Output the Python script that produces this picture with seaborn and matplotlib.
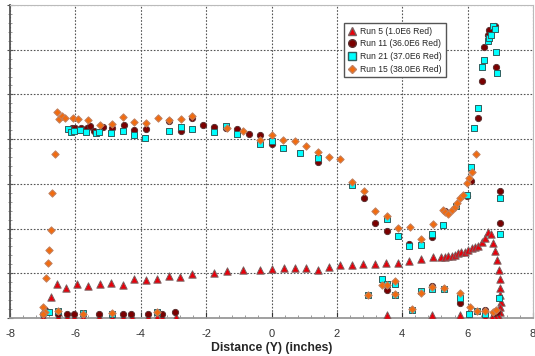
import numpy as np
import pandas as pd
import matplotlib
matplotlib.use("Agg")
import matplotlib.pyplot as plt
from matplotlib.ticker import MultipleLocator, NullFormatter
from matplotlib.lines import Line2D
import seaborn as sns

# ---- data: distance (inches) and response for each run ----
run5_x = [-6.98, -6.52, -6.27, -6.04, -5.77, -5.28, -4.89, -4.53, -4.28, -3.77, -3.50, -3.36, -2.93,
          3.52, 4.90, 5.77, 6.52,
          -6.76, -6.57, -6.30, -5.94, -5.61, -5.25, -4.91, -4.54, -4.20, -3.85, -3.50, -3.15, -2.79, -2.44,
          -1.75, -1.37, -0.87, -0.35, 0.02, 0.37, 0.71, 1.06, 1.41, 1.77, 2.11, 2.47, 2.80, 3.16, 3.51,
          3.87, 4.22, 4.57, 4.93,
          5.20, 5.30, 5.40, 5.51, 5.61, 5.71, 5.81, 5.91, 6.02, 6.12, 6.22, 6.32, 6.43, 6.53, 6.61, 6.70,
          6.78, 6.85, 6.91, 6.96, 6.98, 7.00, 7.00, 7.02, 7.00, 6.98, 6.93, 6.83, 6.76]
run5_y = [0.2, 0.2, 0.2, 0.2, 0.2, 0.2, 0.2, 0.2, 0.2, 0.2, 0.2, 0.2, 0.2,
          0.6, 0.7, 0.6, 0.2,
          4.6, 7.6, 6.7, 7.6, 7.1, 7.5, 7.8, 7.4, 8.7, 8.4, 8.7, 9.4, 9.2, 9.9,
          10.1, 10.4, 10.7, 10.7, 10.9, 11.2, 11.2, 11.2, 10.8, 11.3, 11.8, 11.9, 12.0, 12.0, 12.4,
          12.2, 12.8, 13.3, 13.6,
          13.7, 13.7, 13.9, 13.9, 14.1, 14.5, 14.7, 14.8, 15.2, 15.6, 15.9, 16.2, 16.9, 17.8, 19.2, 18.7,
          16.8, 15.0, 13.0, 10.7, 8.7, 6.8, 5.1, 3.6, 2.5, 1.4, 0.7, 0.5, 0.3]

run11_x = [-6.98, -6.93, -6.52, -6.27, -6.04, -5.28, -4.54, -4.30, -3.77, -3.36, -2.94,
           -6.11, -6.01, -5.83, -5.65, -5.54, -5.44, -5.15, -4.88, -4.52, -4.21, -3.85, -3.14, -2.78,
           -2.44, -2.09, -1.75, -1.39, -1.05, -0.69, -0.35, 0.01, 1.41,
           2.82, 3.16, 3.52, 4.21, 4.92, 5.30, 5.97, 6.09,
           6.32, 6.43, 6.50, 6.61, 6.66, 6.83, 6.88, 6.98, 6.98,
           3.52, 4.92, 5.77, 6.53, 6.80, 6.86, 6.91]
run11_y = [1.0, 1.8, 0.8, 1.0, 0.9, 0.8, 0.8, 1.0, 0.8, 0.8, 1.4,
           42.6, 42.6, 42.6, 42.6, 43.0, 41.9, 42.7, 42.4, 43.2, 42.1, 42.2, 44.1, 41.8,
           44.7, 43.2, 42.8, 42.6, 42.2, 41.1, 40.9, 38.9, 35.0,
           26.9, 21.3, 19.5, 16.6, 18.2, 24.0, 27.2, 30.6,
           44.7, 53.0, 60.5, 63.3, 64.3, 65.2, 56.2, 28.5, 21.2,
           6.3, 7.2, 3.3, 1.8, 1.2, 1.6, 1.4]

run21_x = [-6.88, -6.80, -6.52, -5.76, -4.89, -3.50,
           -6.24, -6.13, -6.04, -5.86, -5.67, -5.37, -5.28, -4.90, -4.54, -4.20, -3.86, -3.14, -2.78,
           -2.44, -1.75, -1.39, -1.05, -0.35, 0.01, 0.36, 0.88, 1.41, 2.47, 3.52, 3.87, 4.21, 4.56,
           4.92, 5.25, 5.63, 5.97, 6.09, 6.18, 6.32, 6.43, 6.50, 6.61, 6.66, 6.71, 6.78, 6.83, 6.88,
           6.91, 6.98, 6.98,
           2.96, 3.38, 3.52, 3.78, 3.78, 4.30, 4.56, 4.92, 5.28, 5.77, 6.05, 6.29, 6.53, 6.96]
run21_y = [1.4, 1.4, 1.6, 1.2, 1.0, 1.4,
           42.3, 41.5, 41.9, 42.1, 41.6, 41.4, 41.6, 41.4, 41.8, 40.9, 40.3, 41.9, 42.8,
           42.3, 41.5, 43.0, 41.2, 38.9, 39.5, 38.0, 37.0, 35.7, 29.8, 22.1, 18.3, 16.0, 16.3,
           18.8, 20.7, 25.1, 27.4, 33.8, 42.4, 46.9, 56.1, 57.7, 62.0, 62.7, 63.3, 65.4, 64.6, 59.4,
           54.9, 26.8, 18.7,
           5.2, 8.7, 7.6, 7.6, 5.1, 1.8, 6.1, 6.4, 6.5, 4.5, 0.9, 1.5, 0.9, 4.5]

run15_x = [-6.62, -6.71, -6.76, -6.81, -6.85, -6.90, -6.98, -6.93, -6.98,
           -6.52, -5.76, -4.89, -3.51,
           -6.57, -6.49, -6.41, -6.31, -6.06, -5.93, -5.61, -5.25, -4.89, -4.53, -4.20, -3.84, -3.48,
           -3.14, -2.78, -2.44, -1.37, -0.87, -0.35, 0.02, 0.36, 0.72, 1.07, 1.41, 1.77, 2.11, 2.47,
           2.82, 3.17, 3.52, 3.88, 4.23, 4.57, 4.93, 5.25, 5.30, 5.39, 5.51, 5.61, 5.68, 5.78, 5.86,
           5.97, 6.05, 6.12, 6.25,
           2.96, 3.39, 3.53, 3.78, 3.78, 4.30, 4.56, 4.92, 5.29, 5.77, 6.07, 6.29, 6.53, 6.78, 6.86]
run15_y = [36.6, 27.9, 19.7, 15.2, 12.2, 8.9, 2.5, 1.4, 0.8,
           1.6, 0.9, 1.2, 1.3,
           46.0, 44.5, 45.2, 44.7, 44.7, 44.4, 44.2, 43.2, 43.4, 44.9, 43.9, 43.7, 44.7,
           44.3, 44.5, 45.2, 42.4, 41.8, 39.9, 41.0, 39.8, 39.5, 38.5, 37.2, 36.1, 35.6, 30.5,
           28.3, 24.0, 22.8, 20.1, 20.4, 17.7, 21.1, 24.2, 23.6, 23.3, 24.2, 24.9, 25.7, 26.9, 27.5,
           30.3, 31.4, 32.7, 36.6,
           5.2, 7.4, 7.4, 8.2, 5.4, 2.0, 5.7, 7.0, 6.6, 5.7, 2.5, 1.6, 1.6, 1.4, 1.8]

run_labels = ["Run 5 (1.0E6 Red)", "Run 11 (36.0E6 Red)",
              "Run 21 (37.0E6 Red)", "Run 15 (38.0E6 Red)"]

xticks = [-8, -6, -4, -2, 0, 2, 4, 6, 8]

frames = []
for lab, xs, ys in zip(run_labels,
                       [run5_x, run11_x, run21_x, run15_x],
                       [run5_y, run11_y, run21_y, run15_y]):
    frames.append(pd.DataFrame({"x": xs, "y": ys, "run": lab}))
df = pd.concat(frames, ignore_index=True)

styles = {
    run_labels[0]: dict(marker="^", color="#E8000B", edge="#7a6060", s=28),
    run_labels[1]: dict(marker="o", color="#7B0000", edge="#5a3030", s=20),
    run_labels[2]: dict(marker="s", color="#00FFFF", edge="#2f5f5f", s=22),
    run_labels[3]: dict(marker="D", color="#F26B0F", edge="#c08060", s=14),
}

sns.set_style("white")
plt.rcParams["font.family"] = ["Arial", "Liberation Sans", "DejaVu Sans"]

fig = plt.figure(figsize=(5.35, 3.56), dpi=100)
ax = fig.add_axes([10 / 535, 1 - 318 / 356, 523 / 535, 313 / 356])

for lab in run_labels:
    st = styles[lab]
    sns.scatterplot(data=df[df["run"] == lab], x="x", y="y", ax=ax,
                    marker=st["marker"], color=st["color"], edgecolor=st["edge"],
                    linewidth=0.7, s=st["s"], legend=False, zorder=3)

ax.set_xlim(-8, 8)
ax.set_ylim(0, 70)
ax.set_xticks(xticks)
ax.set_xticklabels([str(t) for t in xticks])
ax.xaxis.set_minor_locator(MultipleLocator(0.4))
ax.yaxis.set_major_locator(MultipleLocator(10))
ax.yaxis.set_minor_locator(MultipleLocator(2))
ax.yaxis.set_major_formatter(NullFormatter())

ax.grid(True, which="major", linestyle=(0, (1.5, 1.5)), color="#555555", linewidth=0.8)
ax.set_axisbelow(True)

ax.tick_params(axis="x", which="major", direction="in", length=4, labelsize=8,
               colors="#333333", pad=8, bottom=True)
ax.tick_params(axis="x", which="minor", direction="in", length=2.5, color="#888888", bottom=True)
ax.tick_params(axis="y", which="major", direction="inout", length=4, color="#555555", left=True)
ax.tick_params(axis="y", which="minor", direction="inout", length=3, color="#888888", left=True)

for side in ["top", "right"]:
    ax.spines[side].set_color("#bbbbbb")
    ax.spines[side].set_linewidth(0.8)
ax.spines["left"].set_color("#555555")
ax.spines["left"].set_linewidth(1.3)
ax.spines["bottom"].set_color("#999999")
ax.spines["bottom"].set_linewidth(1.3)

ax.set_xlabel("Distance (Y) (inches)", fontsize=8.8, fontweight="bold", labelpad=2)
ax.set_ylabel("")

handles = [Line2D([], [], linestyle="none", marker=styles[l]["marker"],
                  markerfacecolor=styles[l]["color"], markeredgecolor=styles[l]["edge"],
                  markersize=5.5 if styles[l]["marker"] != "D" else 4.2, label=l)
           for l in run_labels]
leg = ax.legend(handles=handles, loc="upper left", bbox_to_anchor=(0.639, 0.943),
                fontsize=6.2, frameon=True, fancybox=False, framealpha=1,
                edgecolor="#555555", borderpad=0.45, labelspacing=0.42,
                handlelength=0.9, handletextpad=0.5, borderaxespad=0)
leg.get_frame().set_linewidth(1.0)

fig.savefig("out.png", dpi=100)
